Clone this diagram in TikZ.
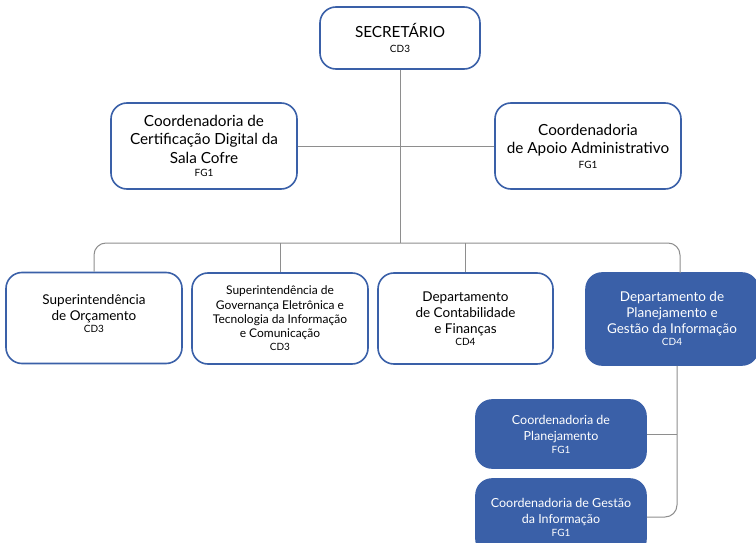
\documentclass[tikz,border=0pt]{standalone}
\usepackage{fontspec}
\setmainfont{Lato}
\usetikzlibrary{positioning}
\definecolor{orgblue}{HTML}{3A60A8}
\definecolor{orgline}{HTML}{8E8E8E}
\newcommand{\cargo}[2][-4pt]{\\[#1]{\fontsize{10}{11}\selectfont #2}}

\begin{document}
\begin{tikzpicture}[
    x=1pt, y=-1pt,
    every node/.style={font=\fontsize{15.3}{18.5}\selectfont, align=center},
    unit/.style={draw=orgblue, line width=1.6pt, fill=white, rounded corners=16pt, inner sep=0pt},
    subunit/.style={unit, fill=orgblue, text=white},
    link/.style={draw=orgline, line width=1pt}
]
\useasboundingbox (0,0) rectangle (756,543);

\node[unit, minimum width=160pt, minimum height=62pt] (sec) at (400,38) {SECRETÁRIO\cargo[-3pt]{CD3}};
\node[unit, minimum width=186pt, minimum height=86pt] (certif) at (204,146) {Coordenadoria de\\Certificação Digital da\\Sala Cofre\cargo[-5pt]{FG1}};
\node[unit, minimum width=186pt, minimum height=86pt] (apoio) at (588,146) {Coordenadoria\\de Apoio Administrativo\cargo{FG1}};

\node[unit, minimum width=176pt, minimum height=91pt, font=\fontsize{13.5}{16}\selectfont] (orc) at (94,318) {Superintendência\\de Orçamento\cargo{CD3}\\[-8pt]\mbox{}};
\node[unit, minimum width=176pt, minimum height=91pt, font=\fontsize{12}{14.3}\selectfont] (gov) at (280,318.5) {Superintendência de\\Governança Eletrônica e\\Tecnologia da Informação\\e Comunicação\cargo[-1pt]{CD3}};
\node[unit, minimum width=175pt, minimum height=91pt, font=\fontsize{13.5}{16}\selectfont] (cont) at (465.5,318.5) {Departamento\\de Contabilidade\\e Finanças\cargo{CD4}};
\node[subunit, minimum width=172pt, minimum height=92pt, font=\fontsize{13.5}{16}\selectfont] (dpgi) at (672,319) {Departamento de\\Planejamento e\\Gestão da Informação\cargo{CD4}};

\node[subunit, minimum width=170pt, minimum height=68pt, font=\fontsize{12.5}{16.5}\selectfont] (plan) at (561,434) {Coordenadoria de\\Planejamento\cargo{FG1}};
\node[subunit, minimum width=170pt, minimum height=76pt, font=\fontsize{12.5}{16.5}\selectfont] (gestao) at (561,517) {Coordenadoria de Gestão\\da Informação\cargo{FG1}};

\coordinate (bus) at (400,243);
\coordinate (busR) at (680,243);
\coordinate (dpgiTop) at (680,273);

% ligações
\draw[link] (sec) -- (bus);
\draw[link] (certif) -- (apoio);
\draw[link, rounded corners=12pt] (orc.north) |- (busR) -- (dpgiTop);
\draw[link] (gov.north) -- (gov.north |- bus);
\draw[link] (cont.north) -- (cont.north |- bus);
\draw[link, rounded corners=12pt] ([xshift=5pt]dpgi.south) |- (gestao.east);
\draw[link] (plan.east) -- ([xshift=5pt]dpgi.south |- plan.east);
\end{tikzpicture}
\end{document}
